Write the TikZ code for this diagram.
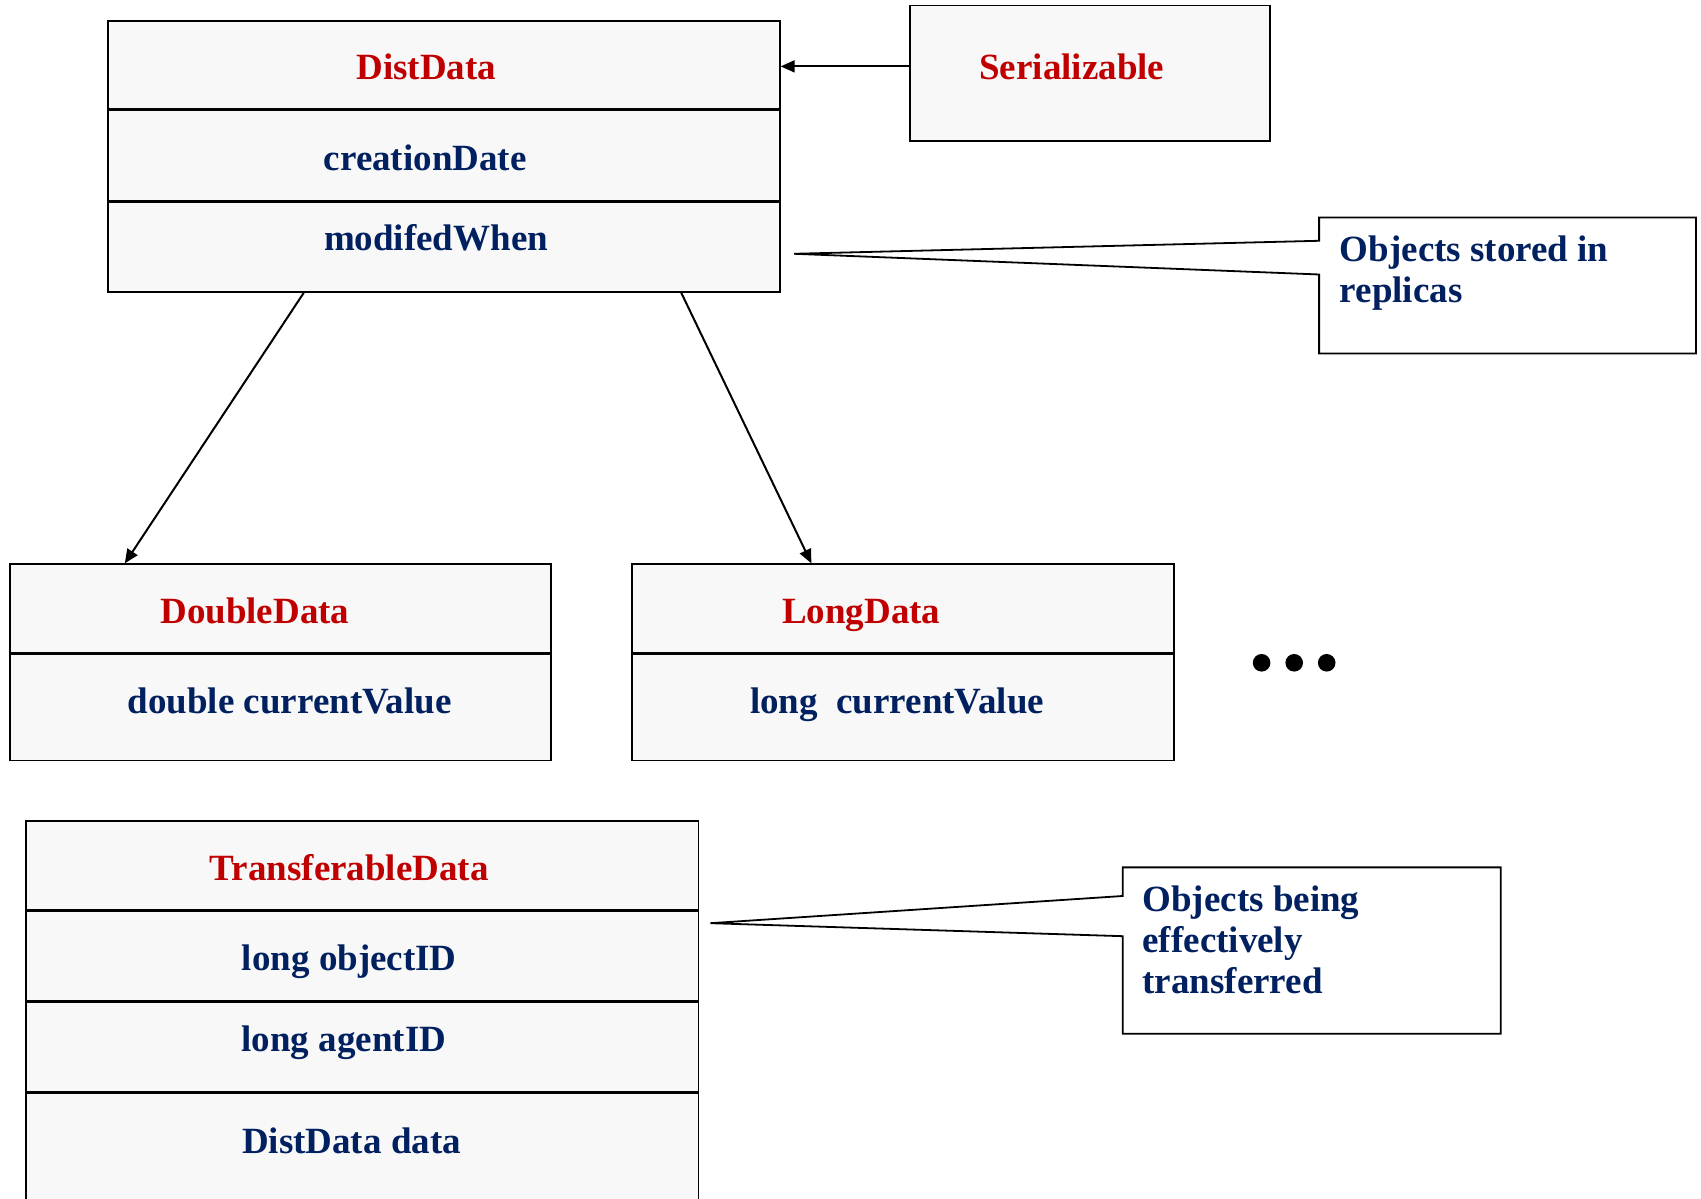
\documentclass[tikz,border=0pt]{standalone}
\usepackage{fontspec}
\setmainfont{Liberation Serif}
\usetikzlibrary{arrows.meta,calc}
\definecolor{clsred}{RGB}{192,0,0}
\definecolor{clsnavy}{RGB}{0,32,96}
\definecolor{boxfill}{RGB}{248,248,248}
\begin{document}
\begin{tikzpicture}[x=1pt,y=1pt,
  classbox/.style={draw=black, line width=1.8pt, fill=boxfill, inner sep=0pt,
                   anchor=south west},
  divider/.style={draw=black, line width=3pt},
  notebox/.style={fill=white, draw=none, inner sep=0pt, anchor=south west},
  noteline/.style={draw=black, line width=1.8pt, line join=miter},
  lbl/.style={font=\fontsize{37}{41}\selectfont\bfseries, inner sep=0pt, anchor=base},
  clsname/.style={lbl, text=clsred},
  member/.style={lbl, text=clsnavy},
  notetext/.style={lbl, text=clsnavy, anchor=base west},
  inherit/.style={draw=black, line width=2pt, -{Triangle[length=14pt,width=12pt]}}]
\clip (0,0) rectangle (1701,1199);

% ---- DistData class ----
\node[classbox, minimum width=671.5, minimum height=271.2] (dist) at (107.4,906.1) {};
\draw[divider] ($(dist.north west)+(0,-90)$) -- ($(dist.north east)+(0,-90)$);
\draw[divider] ($(dist.north west)+(0,-181.2)$) -- ($(dist.north east)+(0,-181.2)$);
\node[clsname] (distname) at (426.3,1119.5) {DistData};
\node[member] (distm1) at (425.2,1028.6) {creationDate};
\node[member] (distm2) at (436.1,948.3) {modifedWhen};

% ---- Serializable interface ----
\node[classbox, minimum width=360.1, minimum height=135.6] (ser) at (909.1,1056.9) {};
\node[clsname] (sername) at (1071.8,1119.7) {Serializable};
\coordinate (serout) at ($(ser.west)+(0,7)$);
\draw[inherit] (serout) -- (serout -| dist.east);

% ---- subclasses ----
\node[classbox, minimum width=541.3, minimum height=196.3] (dbl) at (8.7,437.5) {};
\draw[divider] ($(dbl.north west)+(0,-90)$) -- ($(dbl.north east)+(0,-90)$);
\node[clsname] (dblname) at (254.9,575.2) {DoubleData};
\node[member] (dblm1) at (289.6,485.1) {double currentValue};

\node[classbox, minimum width=541.3, minimum height=196.3] (lng) at (631.4,437.5) {};
\draw[divider] ($(lng.north west)+(0,-90)$) -- ($(lng.north east)+(0,-90)$);
\node[clsname] (lngname) at (861.3,575.2) {LongData};
\node[member] (lngm1) at (897.1,485.1) {long~~currentValue};

\draw[inherit] ($(dist.south west)+(196.3,0)$) -- ($(dbl.north west)+(116.1,0)$);
\draw[inherit] ($(dist.south west)+(573.9,0)$) -- ($(lng.north west)+(180,0)$);

% ellipsis for further subclasses
\foreach \dx in {1261.6,1294.2,1326.7}
  \fill[black] (\dx,536.2) circle (8.8);

% ---- TransferableData class ----
\node[classbox, minimum width=672.5, minimum height=406.7] (trans) at (25,-30) {};
\draw[divider] ($(trans.north west)+(0,-90)$) -- ($(trans.north east)+(0,-90)$);
\draw[divider] ($(trans.north west)+(0,-181.1)$) -- ($(trans.north east)+(0,-181.1)$);
\draw[divider] ($(trans.north west)+(0,-272.3)$) -- ($(trans.north east)+(0,-272.3)$);
\node[clsname] (transname) at (349.3,318.1) {TransferableData};
\node[member] (transm1) at (349.3,228) {long objectID};
\node[member] (transm2) at (343.9,147.8) {long agentID};
\node[member] (transm3) at (351.5,45.8) {DistData data};

% ---- callout notes ----
\node[notebox, minimum width=376.4, minimum height=135.6] (note1) at (1319.1,845.4) {};
\coordinate (tip1) at (794.1,945.2);
\draw[noteline] (note1.north west) -- (note1.north east) -- (note1.south east)
  -- (note1.south west) -- ($(note1.south west)+(0,79.1)$) -- (tip1)
  -- ($(note1.south west)+(0,112.8)$) -- cycle;
\node[notetext] (note1text) at (1339.7,937.5)
  {\begin{tabular}[t]{@{}l@{}}Objects stored in\\ replicas\end{tabular}};

\node[notebox, minimum width=377.5, minimum height=166] (note2) at (1122.8,165.2) {};
\coordinate (tip2) at (710.5,275.8);
\draw[noteline] (note2.north west) -- (note2.north east) -- (note2.south east)
  -- (note2.south west) -- ($(note2.south west)+(0,97.6)$) -- (tip2)
  -- ($(note2.south west)+(0,137.8)$) -- cycle;
\node[notetext] (note2text) at (1142.3,287.7)
  {\begin{tabular}[t]{@{}l@{}}Objects being\\ effectively\\ transferred\end{tabular}};
\end{tikzpicture}
\end{document}
